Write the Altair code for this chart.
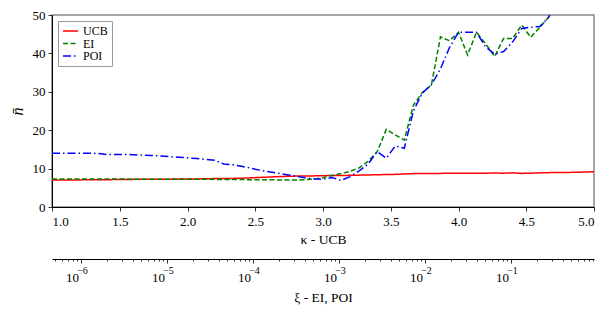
import altair as alt
import pandas as pd

# kappa grid (UCB parameter)
kappa = [1.000, 1.067, 1.133, 1.200, 1.267, 1.333, 1.400, 1.467, 1.533, 1.600,
         1.667, 1.733, 1.800, 1.867, 1.933, 2.000, 2.067, 2.133, 2.200, 2.267,
         2.333, 2.400, 2.467, 2.533, 2.600, 2.667, 2.733, 2.800, 2.867, 2.933,
         3.000, 3.067, 3.133, 3.200, 3.267, 3.333, 3.400, 3.467, 3.533, 3.600,
         3.667, 3.733, 3.800, 3.867, 3.933, 4.000, 4.067, 4.133, 4.200, 4.267,
         4.333, 4.400, 4.467, 4.533, 4.600, 4.667, 4.733, 4.800, 4.867, 4.933,
         5.000]

ucb = [7.0, 7.0, 7.05, 7.05, 7.1, 7.1, 7.1, 7.15, 7.15, 7.2, 7.2, 7.2, 7.25, 7.25, 7.3, 7.3,
       7.3, 7.35, 7.4, 7.4, 7.45, 7.5, 7.6, 7.7, 7.8, 7.9, 8.0, 8.05, 8.1, 8.1, 8.15,
       8.2, 8.2, 8.25, 8.3, 8.35, 8.4, 8.45, 8.5, 8.6, 8.7, 8.7, 8.75, 8.75, 8.8, 8.8,
       8.8, 8.8, 8.8, 8.85, 8.8, 8.9, 8.75, 8.8, 8.9, 8.95, 9.0, 9.0, 9.05, 9.1, 9.2]

ei = [7.3, 7.3, 7.3, 7.3, 7.3, 7.3, 7.3, 7.3, 7.3, 7.25, 7.25, 7.25, 7.2, 7.2, 7.2, 7.2,
      7.2, 7.2, 7.2, 7.15, 7.15, 7.15, 7.1, 7.1, 7.1, 7.05, 7.05, 7.0, 7.1, 7.3, 7.6,
      8.2, 8.7, 9.3, 10.2, 11.9, 14.4, 20.2, 18.8, 17.4, 26.5, 29.8, 31.8, 44.3, 43.3, 45.5,
      39.6, 45.5, 42.5, 39.2, 43.9, 43.9, 47.4, 44.2, 46.8, 49.5, 54.0, 57.0, 59.0, 61.0, 63.0]

poi = [14.0, 14.0, 14.0, 14.0, 14.0, 13.95, 13.7, 13.7, 13.7, 13.6, 13.5, 13.4, 13.3, 13.1, 12.95, 12.8,
       12.6, 12.4, 12.2, 11.2, 11.0, 10.6, 10.1, 9.6, 9.2, 8.8, 8.4, 8.0, 7.6, 7.35, 7.2,
       7.7, 6.9, 7.9, 9.4, 11.2, 14.4, 12.7, 15.9, 15.3, 25.0, 29.7, 31.8, 36.0, 41.5, 45.5,
       45.5, 45.5, 41.7, 39.8, 40.5, 43.0, 46.5, 46.8, 47.0, 49.5, 56.0, 58.0, 60.0, 62.0, 64.0]

methods = ["UCB", "EI", "POI"]
colors = ["#ff0000", "#008000", "#0000ff"]
dashes = [[1, 0], [5, 2.5], [8, 3, 1.5, 3]]

x_ticks = [1.0, 1.5, 2.0, 2.5, 3.0, 3.5, 4.0, 4.5, 5.0]
y_ticks = [0, 10, 20, 30, 40, 50]

# secondary (xi) axis range and ticks
xi_min, xi_max = 4.6e-7, 0.923
xi_major = [1e-6, 1e-5, 1e-4, 1e-3, 1e-2, 1e-1]
xi_ticks = []
for e in range(-7, 0):
    for k in range(1, 10):
        v = k * 10.0 ** e
        if xi_min <= v <= xi_max:
            xi_ticks.append(v)

rows = []
for name, series in zip(methods, [ucb, ei, poi]):
    for kx, v in zip(kappa, series):
        rows.append({"kappa": kx, "n": v, "method": name})
df = pd.DataFrame(rows)

FONT = "Liberation Serif"

legend = alt.Legend(
    title=None, orient="top-left", offset=6, fillColor="white", strokeColor="#999999",
    padding=4, labelFont=FONT, labelFontSize=12, symbolSize=225, symbolStrokeWidth=1.5,
    rowPadding=0.5, clipHeight=12, labelOffset=4, symbolType="stroke", cornerRadius=0,
)

lines = alt.Chart(df).mark_line(strokeWidth=1.5, clip=True).encode(
    x=alt.X("kappa:Q", scale=alt.Scale(domain=[1, 5], nice=False, zero=False),
            axis=alt.Axis(values=x_ticks, format=".1f", title="κ - UCB",
                          labelFont=FONT, titleFont=FONT, titleFontWeight="normal",
                          tickSize=4, labelPadding=4, titlePadding=4)),
    y=alt.Y("n:Q", scale=alt.Scale(domain=[0, 50], nice=False),
            axis=alt.Axis(values=y_ticks, title="n̄", titleFontStyle="italic", titleFontSize=16,
                          labelFont=FONT, titleFont=FONT, titleFontWeight="normal",
                          tickSize=4, labelPadding=3, titlePadding=7)),
    color=alt.Color("method:N", scale=alt.Scale(domain=methods, range=colors), legend=legend),
    strokeDash=alt.StrokeDash("method:N", scale=alt.Scale(domain=methods, range=dashes), legend=legend),
)

xi_df = pd.DataFrame({"xi": [xi_min, xi_max]})

major_test = "abs(log(datum.value)/LN10 - round(log(datum.value)/LN10)) < 1e-6"
base_expr = major_test + " ? '10' : ''"
exp_expr = major_test + " ? '−' + format(-round(log(datum.value)/LN10), 'd') : ''"

xi_scale = alt.Scale(type="log", domain=[xi_min, xi_max], nice=False)

sec = alt.Chart(xi_df).mark_point(opacity=0).encode(
    x=alt.X("xi:Q", scale=xi_scale,
            axis=alt.Axis(orient="bottom", offset=52, values=xi_ticks, labelExpr=base_expr,
                          labelOverlap=False, labelFlush=False, title="ξ - EI, POI",
                          labelFont=FONT, titleFont=FONT, titleFontWeight="normal",
                          tickSize={"condition": {"test": major_test, "value": 4}, "value": 2},
                          labelPadding=8, labelOffset=-9, titlePadding=6, grid=False)),
    y=alt.value(0),
)

sec_exp = alt.Chart(xi_df).mark_point(opacity=0).encode(
    x=alt.X("xi2:Q", scale=xi_scale,
            axis=alt.Axis(orient="bottom", offset=52, values=xi_major, labelExpr=exp_expr,
                          labelOverlap=False, labelFlush=False, title=None, domain=False,
                          labelFont=FONT,
                          ticks=False, labelFontSize=10, labelPadding=6, labelOffset=1,
                          grid=False)),
    y=alt.value(0),
).transform_calculate(xi2="datum.xi")

chart = alt.layer(lines, sec, sec_exp).resolve_scale(x="independent").properties(
    width=542, height=192, autosize="none",
    padding={"left": 44, "top": 7, "right": 10, "bottom": 99},
).configure(
    font=FONT,
).configure_axis(
    grid=False, labelFont=FONT, titleFont=FONT, labelFontSize=13, titleFontSize=13.5,
    titleFontWeight="normal", labelColor="black", titleColor="black",
    domainColor="black", domainWidth=1, tickColor="#333333", tickWidth=1,
).configure_view(
    stroke="#888888", strokeWidth=1.5,
)

chart.save("out.html", embed_options={"renderer": "svg", "actions": False})
